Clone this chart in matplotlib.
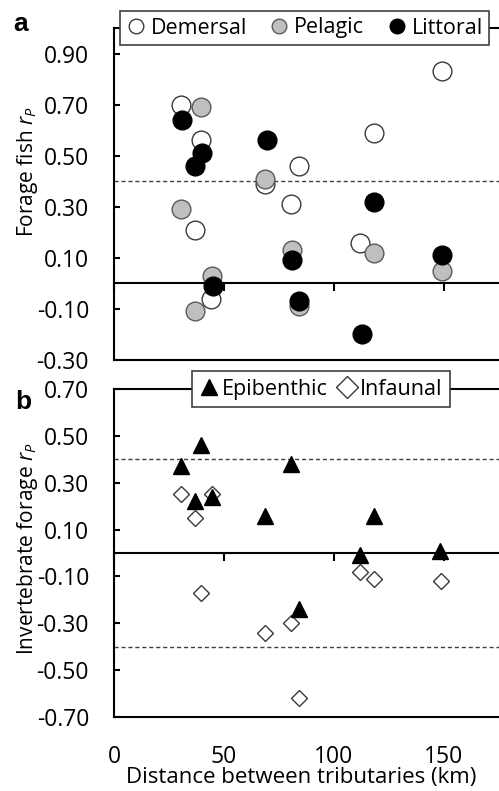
import matplotlib
matplotlib.use("Agg")
import matplotlib.pyplot as plt
import numpy as np
from matplotlib.lines import Line2D

plt.rcParams['font.family'] = ['Open Sans', 'DejaVu Sans']
plt.rcParams['mathtext.fontset'] = 'custom'
plt.rcParams['mathtext.it'] = 'Open Sans:italic'
plt.rcParams['mathtext.rm'] = 'Open Sans'

# ---------------- data ----------------
# Panel a: forage fish
dem_x = [30.5, 39.5, 37, 44, 68.5, 84, 80.5, 118, 112, 149]
dem_y = [0.70, 0.56, 0.21, -0.06, 0.39, 0.46, 0.31, 0.59, 0.16, 0.83]
pel_x = [39.5, 30.5, 37, 44.5, 68.7, 80.7, 84, 118, 149]
pel_y = [0.69, 0.29, -0.11, 0.03, 0.41, 0.13, -0.09, 0.12, 0.05]
lit_x = [31, 40.2, 37, 45.2, 69.4, 81, 84.2, 118.3, 112.9, 149.2]
lit_y = [0.64, 0.51, 0.46, -0.01, 0.56, 0.09, -0.07, 0.32, -0.20, 0.11]

# Panel b: invertebrate forage
epi_x = [30.5, 39.5, 37, 44.5, 80.5, 68.5, 118, 112, 148.2, 84]
epi_y = [0.37, 0.46, 0.22, 0.24, 0.38, 0.16, 0.16, -0.01, 0.01, -0.24]
inf_x = [30.5, 37, 44.5, 39.5, 68.5, 80.5, 84, 112, 118, 148.5]
inf_y = [0.25, 0.15, 0.25, -0.17, -0.34, -0.30, -0.62, -0.08, -0.11, -0.12]

x_ticks = [0, 50, 100, 150]
ya_ticks = [-0.30, -0.10, 0.10, 0.30, 0.50, 0.70, 0.90]
yb_ticks = [-0.70, -0.50, -0.30, -0.10, 0.10, 0.30, 0.50, 0.70]
a_thresh = [0.40]
b_thresh = [0.40, -0.40]

W, H = 499, 791
fig = plt.figure(figsize=(W / 100, H / 100), dpi=100)


def px_axes(left, top, right, bottom):
    return fig.add_axes([left / W, 1 - bottom / H, (right - left) / W, (bottom - top) / H])


axa = px_axes(114, 28, 499, 360)
axb = px_axes(114, 389, 499, 717)

LW = 1.5
TICK_FS = 16.5


def style(ax, ylim, yticks, show_xlabels):
    ax.set_xlim(0, 175)
    ax.set_ylim(*ylim)
    ax.spines['right'].set_visible(False)
    for s in ['left', 'top', 'bottom']:
        ax.spines[s].set_linewidth(LW)
        ax.spines[s].set_color('black')
    ax.spines['bottom'].set_position(('data', 0))
    ax.set_xticks(x_ticks)
    ax.tick_params(axis='x', direction='out', length=6, width=LW, labelbottom=False)
    ax.set_yticks(yticks)
    ax.set_yticklabels([f"{v:.2f}" for v in yticks])
    ax.tick_params(axis='y', direction='in', length=4.5, width=LW, pad=18,
                   labelsize=TICK_FS)
    sec = ax.secondary_xaxis(0.0)
    sec.spines['bottom'].set_linewidth(LW)
    sec.set_xticks(x_ticks)
    sec.tick_params(length=0, pad=20, labelsize=TICK_FS)
    if not show_xlabels:
        sec.set_xticklabels([])


style(axa, (-0.30, 1.0), ya_ticks, False)
style(axb, (-0.70, 0.70), yb_ticks, True)

for v in a_thresh:
    axa.axhline(v, color='#404040', lw=1.0, ls=(0, (3, 2)), zorder=1)
for v in b_thresh:
    axb.axhline(v, color='#404040', lw=1.0, ls=(0, (3, 2)), zorder=1)

MS = 13.5
dem_style = dict(marker='o', mfc='white', mec='#3a3a3a', mew=1.0, ls='none')
pel_style = dict(marker='o', mfc='#bfbfbf', mec='#5a5a5a', mew=1.0, ls='none')
lit_style = dict(marker='o', mfc='black', mec='black', mew=1.0, ls='none')
epi_style = dict(marker='^', mfc='black', mec='black', mew=1.0, ls='none')
inf_style = dict(marker='D', mfc='white', mec='#3a3a3a', mew=1.0, ls='none')

axa.plot(dem_x, dem_y, ms=MS, zorder=3, clip_on=False, **dem_style)
axa.plot(pel_x, pel_y, ms=MS, zorder=4, clip_on=False, **pel_style)
axa.plot(lit_x, lit_y, ms=MS, zorder=5, clip_on=False, **lit_style)

axb.plot(epi_x, epi_y, ms=12, zorder=5, clip_on=False, **epi_style)
axb.plot(inf_x, inf_y, ms=8, zorder=4, clip_on=False, **inf_style)

LEG_FS = 15.5
ha = [Line2D([], [], ms=10.5, **dem_style), Line2D([], [], ms=10.5, **pel_style),
      Line2D([], [], ms=10.5, **lit_style)]
lega = axa.legend(ha, ['Demersal', 'Pelagic', 'Littoral'], loc='center',
                  bbox_to_anchor=(0.496, 1.0), ncol=3, fontsize=LEG_FS,
                  frameon=True, fancybox=False, framealpha=1, edgecolor='#404040',
                  handlelength=0.8, handletextpad=0.3, columnspacing=1.1,
                  borderpad=0.3, borderaxespad=0)
lega.get_frame().set_linewidth(1.2)
lega.set_zorder(10)

hb = [Line2D([], [], ms=12, **epi_style), Line2D([], [], ms=11, **inf_style)]
legb = axb.legend(hb, ['Epibenthic', 'Infaunal'], loc='center',
                  bbox_to_anchor=(0.538, 1.0), ncol=2, fontsize=LEG_FS,
                  frameon=True, fancybox=False, framealpha=1, edgecolor='#404040',
                  handlelength=0.8, handletextpad=0.2, columnspacing=0.5,
                  borderpad=0.35, borderaxespad=0)
legb.get_frame().set_linewidth(1.2)
legb.set_zorder(10)

# axis labels
fig.text(28 / W, 1 - 172 / H, r'Forage fish $r_P$', rotation=90, ha='center', va='center',
         fontsize=15)
fig.text(28 / W, 1 - 549 / H, r'Invertebrate forage $r_P$', rotation=90, ha='center',
         va='center', fontsize=15)
fig.text(301 / W, 1 - 777 / H, 'Distance between tributaries (km)', ha='center',
         va='center', fontsize=16)

# panel letters
fig.text(21 / W, 1 - 24 / H, 'a', ha='center', va='center', fontsize=19,
         fontweight='bold', family=['Liberation Sans', 'DejaVu Sans'])
fig.text(23 / W, 1 - 402 / H, 'b', ha='center', va='center', fontsize=19,
         fontweight='bold', family=['Liberation Sans', 'DejaVu Sans'])

fig.savefig('out.png', dpi=100)
